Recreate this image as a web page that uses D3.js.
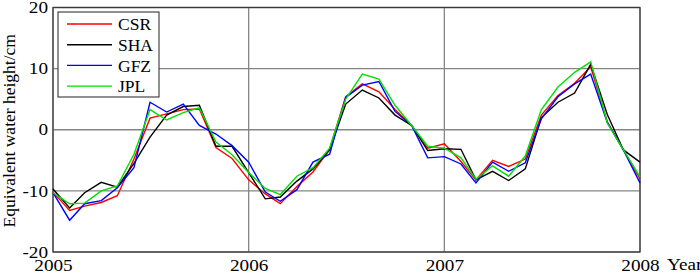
<!DOCTYPE html>
<html>
<head>
<meta charset="utf-8">
<script src="https://cdn.jsdelivr.net/npm/d3@7"></script>
<style>
  body { margin: 0; background: #fff; }
  svg text { font-family: "Liberation Serif", "Times New Roman", serif; }
</style>
</head>
<body>
<div id="chart"></div>
<script>
// monthly values, Jan 2005 .. Jan 2008 (cm)
const months = d3.timeMonth.range(new Date(2005, 0, 1), new Date(2008, 0, 2));

const csr = [-10.2, -13.2, -12.5, -11.9, -10.8, -4.8, 1.9, 2.6, 3.3, 3.4, -2.9, -4.7,
             -8.2, -10.5, -12.1, -9.3, -6.9, -3.2, 5.4, 7.5, 6.2, 3.3, 0.7, -3.0,
             -2.3, -5.2, -8.2, -5.0, -6.0, -4.8, 2.4, 5.6, 7.6, 10.3, 1.3, -3.3, -8.0];
const sha = [-9.7, -12.8, -10.3, -8.6, -9.4, -5.5, -1.2, 2.4, 3.8, 4.0, -2.7, -2.7,
             -7.0, -11.3, -11.0, -8.4, -6.4, -3.3, 4.2, 6.5, 5.2, 2.4, 0.7, -3.4,
             -3.1, -3.2, -8.2, -6.8, -8.3, -6.4, 2.0, 4.5, 6.0, 10.7, 2.5, -3.3, -5.3];
const gfz = [-10.3, -14.8, -12.1, -11.6, -9.5, -6.2, 4.5, 2.9, 4.2, 0.7, -0.7, -2.6,
             -5.3, -10.2, -11.7, -9.8, -5.3, -4.0, 5.3, 7.3, 7.9, 3.0, 0.7, -4.6,
             -4.4, -5.6, -8.7, -5.3, -6.8, -5.4, 1.8, 5.4, 7.5, 9.1, 1.2, -3.3, -8.7];
const jpl = [-10.3, -12.1, -12.0, -10.0, -9.2, -4.0, 3.3, 1.6, 2.8, 3.6, -2.0, -4.1,
             -7.0, -9.6, -10.6, -7.6, -6.2, -3.0, 5.0, 9.1, 8.3, 4.0, 0.7, -2.7,
             -3.0, -4.6, -8.1, -5.9, -7.6, -4.3, 3.3, 7.0, 9.4, 11.1, 1.1, -3.3, -7.7];

const seriesNames = ["CSR", "SHA", "GFZ", "JPL"];
const seriesValues = [csr, sha, gfz, jpl];
const seriesColors = ["#ff0000", "#000000", "#0000ff", "#00e000"];
const yTicks = [-20, -10, 0, 10, 20];
const xTicks = [2005, 2006, 2007, 2008];

const width = 700, height = 276;
const marginLeft = 53, plotRight = 640, marginTop = 7.5, plotBottom = 252;
const serif = "Liberation Serif";

const svg = d3.select("#chart").append("svg")
    .attr("width", width)
    .attr("height", height)
    .attr("font-family", serif);

const xScale = d3.scaleTime()
    .domain([new Date(2005, 0, 1), new Date(2008, 0, 1)])
    .range([marginLeft, plotRight]);

const yScale = d3.scaleLinear()
    .domain([-20, 20])
    .range([plotBottom, marginTop]);

// grid
svg.append("g")
    .selectAll("line")
    .data(yTicks)
    .enter().append("line")
    .attr("x1", marginLeft).attr("x2", plotRight)
    .attr("y1", d => yScale(d)).attr("y2", d => yScale(d))
    .attr("stroke", "#858585")
    .attr("stroke-width", 1.3);

svg.append("g")
    .selectAll("line")
    .data(xTicks)
    .enter().append("line")
    .attr("x1", d => xScale(new Date(d, 0, 1))).attr("x2", d => xScale(new Date(d, 0, 1)))
    .attr("y1", marginTop).attr("y2", plotBottom)
    .attr("stroke", "#858585")
    .attr("stroke-width", 1.3);

// axes
svg.append("g")
    .attr("transform", `translate(${marginLeft},0)`)
    .call(d3.axisLeft(yScale).tickValues(yTicks).tickFormat(d => String(d)).tickSize(0).tickPadding(5))
    .attr("font-family", serif);

svg.append("g")
    .attr("transform", `translate(0,${plotBottom})`)
    .call(d3.axisBottom(xScale).tickValues(xTicks.map(d => new Date(d, 0, 1)))
        .tickFormat(d3.timeFormat("%Y")).tickSize(0).tickPadding(8))
    .attr("font-family", serif);

svg.selectAll(".domain").remove();
svg.selectAll(".tick text")
    .attr("font-family", serif)
    .style("font-size", "16px")
    .attr("fill", "#000");

// frame
svg.append("rect")
    .attr("x", marginLeft).attr("y", marginTop)
    .attr("width", plotRight - marginLeft).attr("height", plotBottom - marginTop)
    .attr("fill", "none")
    .attr("stroke", "#3a3a3a")
    .attr("stroke-width", 1.2);

// lines
const line = d3.line()
    .x((d, i) => xScale(months[i]))
    .y(d => yScale(d));

svg.append("g")
    .selectAll("path")
    .data(seriesValues)
    .enter().append("path")
    .attr("d", d => line(d))
    .attr("fill", "none")
    .attr("stroke", (d, i) => seriesColors[i])
    .attr("stroke-width", 1.4);

// labels
svg.append("text")
    .attr("class", "ylabel")
    .attr("transform", `translate(15,${(marginTop + plotBottom) / 2 + 1}) rotate(-90)`)
    .style("font-size", "17.5px")
    .style("text-anchor", "middle")
    .text("Equivalent water height/cm");

svg.append("text")
    .attr("class", "xlabel")
    .attr("x", 667)
    .attr("y", 270)
    .style("font-size", "16px")
    .text("Year");

// legend
const legend = svg.append("g")
    .attr("class", "legend")
    .attr("transform", "translate(58,12)");

legend.append("rect")
    .attr("width", 101).attr("height", 85)
    .attr("fill", "#fff")
    .attr("stroke", "#222")
    .attr("stroke-width", 1);

const rows = legend.selectAll("g.row")
    .data(seriesNames)
    .enter().append("g")
    .attr("class", "row")
    .attr("transform", (d, i) => `translate(0,${12 + i * 20.7})`);

rows.append("line")
    .attr("x1", 9).attr("x2", 54)
    .attr("stroke", (d, i) => seriesColors[i])
    .attr("stroke-width", 1.4);

rows.append("text")
    .attr("x", 60)
    .attr("dy", "0.35em")
    .style("font-size", "17.5px")
    .text(d => d);

// the reference text is a bit wider than the font, stretch it
svg.selectAll(".tick text, .xlabel").each(function() {
    const w = this.getComputedTextLength();
    d3.select(this).attr("textLength", w * 1.2).attr("lengthAdjust", "spacingAndGlyphs");
});
</script>
</body>
</html>
